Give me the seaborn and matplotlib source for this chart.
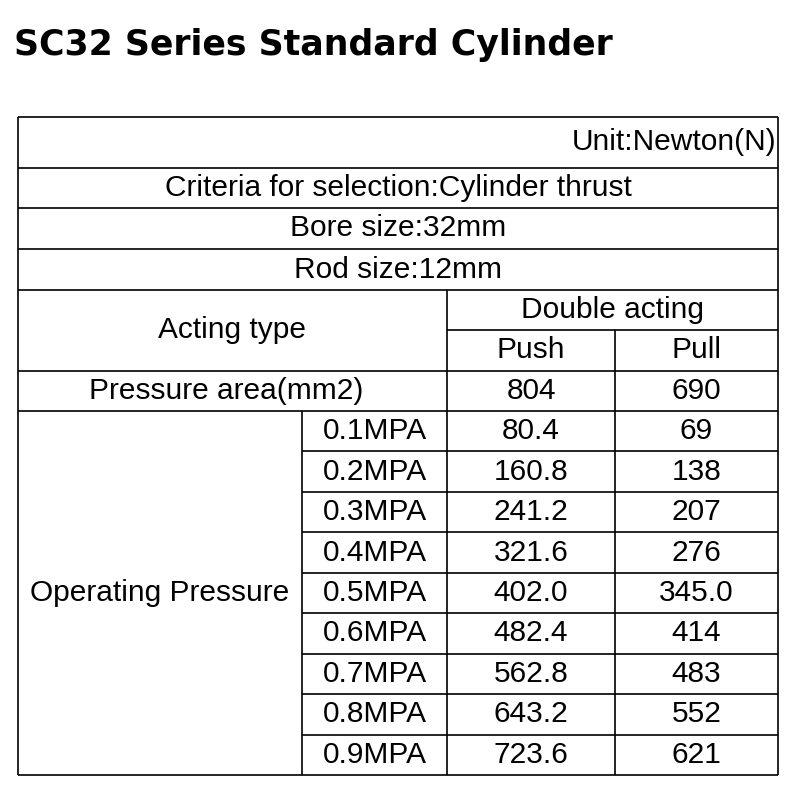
import matplotlib
matplotlib.use("Agg")
from matplotlib import pyplot as plt
import seaborn as sns

title = "SC32 Series Standard Cylinder"
unit_text = "Unit:Newton(N)"
criteria_text = "Criteria for selection:Cylinder thrust"
bore_text = "Bore size:32mm"
rod_text = "Rod size:12mm"
area_push = "804"
area_pull = "690"
pressures = ["0.1MPA", "0.2MPA", "0.3MPA", "0.4MPA", "0.5MPA",
             "0.6MPA", "0.7MPA", "0.8MPA", "0.9MPA"]
push = ["80.4", "160.8", "241.2", "321.6", "402.0", "482.4", "562.8", "643.2", "723.6"]
pull = ["69", "138", "207", "276", "345.0", "414", "483", "552", "621"]

sns.set_theme(style="white")
plt.rcParams['font.family'] = ['Liberation Sans', 'DejaVu Sans']

fig = plt.figure(figsize=(8, 8), dpi=100)
ax = fig.add_axes([0, 0, 1, 1])
ax.set_xlim(0, 800)
ax.set_ylim(800, 0)
ax.axis("off")

# column edges and row edges (pixels)
x0, x1, x2, x3, x4 = 18, 302, 447, 615, 778
top = [117, 168, 208, 249, 290, 330, 371, 411]
rh = (775 - 411) / len(pressures)
rows = top + [411 + rh * (i + 1) for i in range(len(pressures))]
lw = 1.2
fs = 21.5

def line(xa, xb, ya, yb):
    ax.plot([xa, xb], [ya, yb], color="black", lw=lw, solid_capstyle="butt")

def txt(x, y, s, ha="center"):
    ax.text(x, y, s, ha=ha, va="center", fontsize=fs, color="black")

ax.text(14, 45, title, ha="left", va="center", fontsize=25, fontweight="bold",
        family="DejaVu Sans", color="black")

# outer border
line(x0, x4, rows[0], rows[0])
line(x0, x4, rows[-1], rows[-1])
line(x0, x0, rows[0], rows[-1])
line(x4, x4, rows[0], rows[-1])
for y in rows[1:5]:
    line(x0, x4, y, y)
line(x2, x4, rows[5], rows[5])
line(x0, x4, rows[6], rows[6])
line(x0, x4, rows[7], rows[7])
for y in rows[8:-1]:
    line(x1, x4, y, y)
line(x2, x2, rows[4], rows[-1])
line(x3, x3, rows[5], rows[-1])
line(x1, x1, rows[7], rows[-1])

def mid(i):
    return (rows[i] + rows[i + 1]) / 2

txt(x4 - 2, mid(0), unit_text, ha="right")
txt((x0 + x4) / 2, mid(1), criteria_text)
txt((x0 + x4) / 2, mid(2), bore_text)
txt((x0 + x4) / 2, mid(3), rod_text)
txt((x0 + x2) / 2, rows[5], "Acting type")
txt((x2 + x4) / 2, mid(4), "Double acting")
txt((x2 + x3) / 2, mid(5), "Push")
txt((x3 + x4) / 2, mid(5), "Pull")
txt((x0 + x2) / 2 - 6, mid(6), "Pressure area(mm2)")
txt((x2 + x3) / 2, mid(6), area_push)
txt((x3 + x4) / 2, mid(6), area_pull)
txt((x0 + x1) / 2, (rows[7] + rows[-1]) / 2, "Operating Pressure")
for i, (p, a, b) in enumerate(zip(pressures, push, pull)):
    y = mid(7 + i)
    txt((x1 + x2) / 2, y, p)
    txt((x2 + x3) / 2, y, a)
    txt((x3 + x4) / 2, y, b)

fig.savefig("out.png", dpi=100)
